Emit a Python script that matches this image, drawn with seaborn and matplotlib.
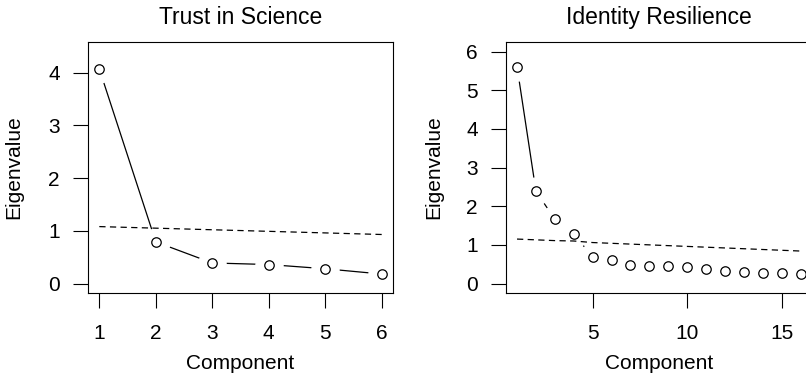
import matplotlib
matplotlib.use("Agg")
import matplotlib.pyplot as plt
import numpy as np
import pandas as pd
import seaborn as sns

# ---- data ----
trust_comp = [1, 2, 3, 4, 5, 6]
trust_eigen = [4.07, 0.79, 0.39, 0.36, 0.28, 0.18]
trust_parallel = [1.08, 1.05, 1.02, 0.99, 0.96, 0.93]

ident_comp = list(range(1, 17))
ident_eigen = [5.61, 2.39, 1.66, 1.28, 0.69, 0.60, 0.49, 0.46, 0.45, 0.43,
               0.37, 0.33, 0.30, 0.27, 0.26, 0.25]
ident_parallel = [1.15, 1.13, 1.11, 1.10, 1.06, 1.04, 1.02, 1.00, 0.98, 0.96,
                  0.94, 0.92, 0.90, 0.88, 0.86, 0.84]

titles = ["Trust in Science", "Identity Resilience"]
x_label = "Component"
y_label = "Eigenvalue"
trust_xticks = [1, 2, 3, 4, 5, 6]
trust_yticks = [0, 1, 2, 3, 4]
ident_xticks = [5, 10, 15]
ident_yticks = [0, 1, 2, 3, 4, 5, 6]

sns.set_style("white")
plt.rcParams["font.family"] = ["Liberation Sans", "DejaVu Sans"]

fig = plt.figure(figsize=(8.06, 3.78), dpi=100)
ax1 = fig.add_axes([0.1092, 0.2254, 0.3784, 0.6627])
ax2 = fig.add_axes([0.6274, 0.2254, 0.3800, 0.6627])


def scree(ax, comp, eig, par, title, xticks, yticks, xlim, ylim, ylab_x):
    df = pd.DataFrame({"comp": comp, "eig": eig, "par": par})
    # solid connecting line (R type="b")
    sns.lineplot(data=df, x="comp", y="eig", ax=ax, color="black",
                 linewidth=0.9, zorder=1.5, estimator=None, sort=False)
    # white halos to create gaps around points
    ax.plot(df["comp"], df["eig"], linestyle="none", marker="o",
            markersize=19.5, markerfacecolor="white", markeredgecolor="white",
            zorder=1.8)
    # dashed parallel-analysis line
    sns.lineplot(data=df, x="comp", y="par", ax=ax, color="black",
                 linewidth=0.9, linestyle=(0, (5, 3.5)), zorder=2.1,
                 estimator=None, sort=False)
    # open circles
    ax.plot(df["comp"], df["eig"], linestyle="none", marker="o",
            markersize=6.8, markerfacecolor="none", markeredgecolor="black",
            markeredgewidth=0.9, zorder=3)

    ax.set_xlim(*xlim)
    ax.set_ylim(*ylim)
    ax.set_xticks(xticks)
    ax.set_yticks(yticks)
    ax.tick_params(axis="both", direction="out", length=10.5, width=0.8,
                   color="black", labelsize=15, labelcolor="black",
                   bottom=True, left=True)
    ax.tick_params(axis="x", pad=12)
    ax.tick_params(axis="y", pad=9.7)
    for sp in ax.spines.values():
        sp.set_visible(True)
        sp.set_color("black")
        sp.set_linewidth(0.8)
    ax.set_title(title, fontsize=16.5, pad=13.5, color="black")
    ax.set_xlabel(x_label, fontsize=15, va="center", color="black")
    ax.set_ylabel(y_label, fontsize=15, va="center", color="black")
    ax.xaxis.set_label_coords(0.5, -0.2805)
    ax.yaxis.set_label_coords(ylab_x, 0.5)
    ax.grid(False)


scree(ax1, trust_comp, trust_eigen, trust_parallel, titles[0],
      trust_xticks, trust_yticks, (0.8, 6.2), (-0.176, 4.576), -0.2426)
scree(ax2, ident_comp, ident_eigen, ident_parallel, titles[1],
      ident_xticks, ident_yticks, (0.4, 16.6), (-0.24, 6.24), -0.2347)

fig.savefig("out.png", dpi=100)
